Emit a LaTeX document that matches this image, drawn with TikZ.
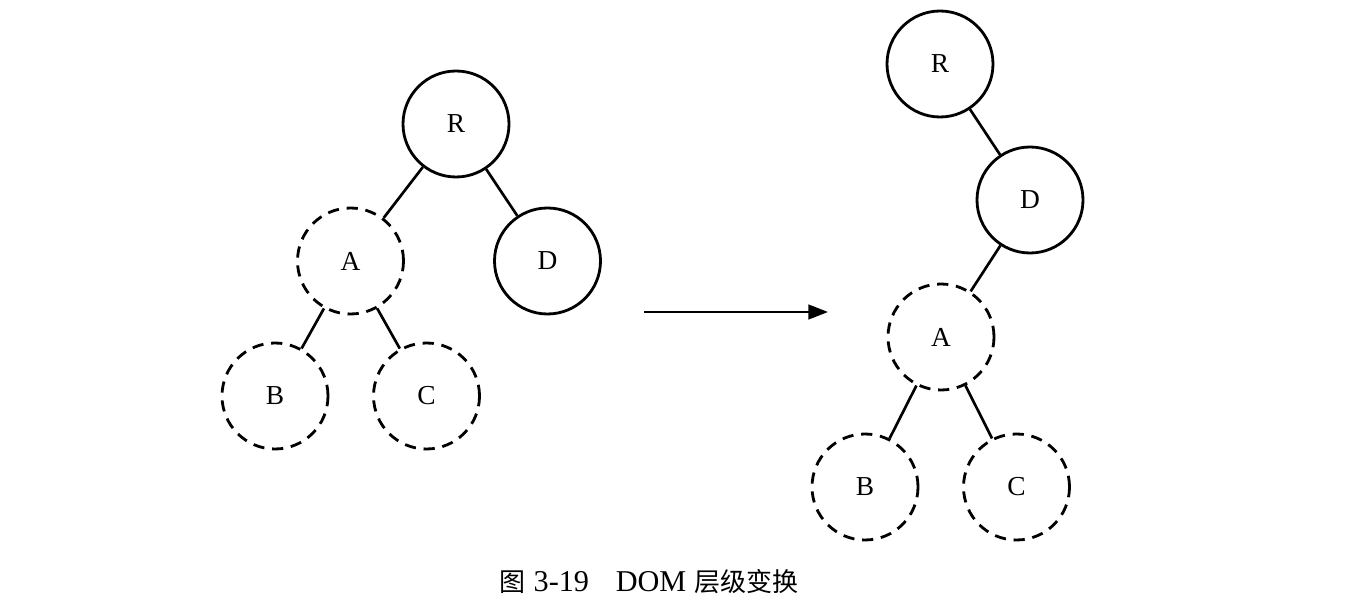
\documentclass[tikz,border=0pt]{standalone}
\usepackage{fontspec}
\setmainfont{Liberation Serif}
\newfontfamily\cjkfont[Scale=0.86]{Noto Sans CJK SC}
\usetikzlibrary{arrows.meta}

\begin{document}
\begin{tikzpicture}[
    >={Triangle[length=14pt, width=10.5pt]},
    elem/.style={circle, draw=black, line width=2pt, minimum size=2.65cm, inner sep=0pt, font=\fontsize{19.5}{22}\selectfont},
    moved/.style={elem, dash pattern=on 8pt off 5.5pt},
    link/.style={line width=1.9pt},
  ]
  \useasboundingbox (0,0) rectangle (33.95,15.325);

  % Before
  \node[elem]  (lR) at (11.4,12.225)   {R};
  \node[moved] (lA) at (8.7625,8.8)    {A};
  \node[elem]  (lD) at (13.6875,8.8)   {D};
  \node[moved] (lB) at (6.875,5.425)   {B};
  \node[moved] (lC) at (10.6625,5.425) {C};

  % After
  \node[elem]  (rR) at (23.5,13.725)   {R};
  \node[elem]  (rD) at (25.75,10.325)  {D};
  \node[moved] (rA) at (23.525,6.9)    {A};
  \node[moved] (rB) at (21.625,3.15)   {B};
  \node[moved] (rC) at (25.4125,3.15)  {C};

  \foreach \s/\e in {lR/lA, lR/lD, lA/lB, lA/lC, rR/rD, rD/rA, rA/rB, rA/rC} {
    \draw[link] (\s) -- (\e);
  }

  % Transform arrow
  \coordinate (from) at (16.1,7.525);
  \coordinate (to) at (20.7,7.525);
  \draw[->, line width=1.6pt] (from) -- (to);

  % Caption
  \node (cap) at (16.225,0.775) {\fontsize{21.5}{24}\selectfont{\cjkfont 图}\hspace{6pt}3-19\hspace{19pt}DOM\hspace{6pt}{\cjkfont 层级变换}};

\end{tikzpicture}
\end{document}
